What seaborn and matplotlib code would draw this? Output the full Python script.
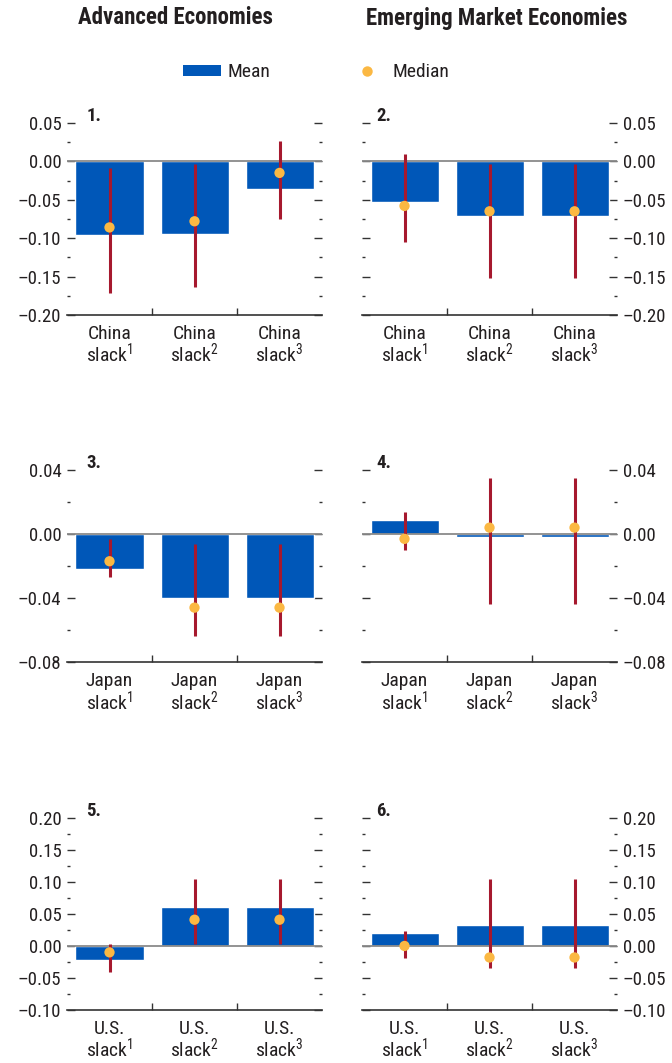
import matplotlib
matplotlib.use("Agg")
import numpy as np
import seaborn as sns
import matplotlib.pyplot as plt
from matplotlib import font_manager
from matplotlib.lines import Line2D
from matplotlib.patches import Patch
from matplotlib.ticker import MultipleLocator, FixedLocator, FuncFormatter

groups = ["China", "Japan", "U.S."]
slacks = ["1", "2", "3"]

# advanced economies (left column), rows: China, Japan, U.S.
adv_mean = [[-0.096, -0.094, -0.036], [-0.022, -0.040, -0.040], [-0.022, 0.061, 0.061]]
adv_median = [[-0.086, -0.078, -0.015], [-0.017, -0.046, -0.046], [-0.010, 0.041, 0.041]]
adv_low = [[-0.172, -0.164, -0.075], [-0.027, -0.064, -0.064], [-0.040, 0.003, 0.003]]
adv_high = [[-0.009, -0.004, 0.027], [-0.003, -0.006, -0.006], [0.003, 0.104, 0.104]]

# emerging market economies (right column)
em_mean = [[-0.053, -0.071, -0.071], [0.009, -0.002, -0.002], [0.021, 0.032, 0.032]]
em_median = [[-0.058, -0.065, -0.065], [-0.003, 0.004, 0.004], [0.000, -0.018, -0.018]]
em_low = [[-0.105, -0.152, -0.152], [-0.010, -0.044, -0.044], [-0.019, -0.035, -0.035]]
em_high = [[0.010, -0.003, -0.003], [0.014, 0.035, 0.035], [0.023, 0.105, 0.105]]

y_limits = [(-0.20, 0.05), (-0.08, 0.04), (-0.10, 0.20)]
y_steps = [0.05, 0.04, 0.05]

BLUE = "#0057B8"
RED = "#A6192E"
GOLD = "#FBB843"
TEXT = "#231F20"

sns.set_theme(style="white")


def wnum(w):
    if isinstance(w, str):
        return font_manager.weight_dict.get(w, 400)
    return int(w)


# pick a narrow family that has both regular and bold faces
weights = {}
for f in font_manager.fontManager.ttflist:
    weights.setdefault(f.name, set()).add(wnum(f.weight))
main_font = "Liberation Sans"
preferred = ["Liberation Sans Narrow", "Roboto Condensed", "Open Sans Condensed",
             "Noto Sans Condensed", "DejaVu Sans Condensed"]
others = sorted(n for n in weights if ("Narrow" in n or "Condensed" in n)
                and "Light" not in n and "Thin" not in n)
for name in preferred + others:
    if name in weights and 400 in weights[name] and max(weights[name]) >= 600:
        main_font = name
        break

plt.rcParams["font.family"] = [main_font, "DejaVu Sans"]
plt.rcParams["mathtext.fontset"] = "custom"
plt.rcParams["mathtext.rm"] = main_font
plt.rcParams["mathtext.default"] = "regular"
plt.rcParams["text.color"] = TEXT
plt.rcParams["xtick.color"] = TEXT
plt.rcParams["ytick.color"] = TEXT


def fmt(v, pos):
    v = round(v, 4)
    if abs(v) < 1e-9:
        v = 0.0
    return f"{v:.2f}".replace("-", "–")


def draw_panel(ax, group, mean, median, low, high, ylim, step, num, right):
    cats = [f"{group}\nslack$^{{{s}}}$" for s in slacks]
    sns.barplot(x=cats, y=mean, color=BLUE, saturation=1, width=0.8, ax=ax, zorder=2)
    ax.axhline(0, color="#8A8A8A", lw=1.3, zorder=3)
    xs = np.arange(len(cats))
    ax.vlines(xs, low, high, color=RED, lw=2.2, zorder=4)
    ax.scatter(xs, median, s=55, color=GOLD, edgecolor="none", zorder=5)

    ax.set_ylim(*ylim)
    ax.set_xlim(-0.5, 2.5)
    ax.yaxis.set_major_locator(MultipleLocator(step))
    ax.yaxis.set_minor_locator(MultipleLocator(step / 2))
    ax.yaxis.set_major_formatter(FuncFormatter(fmt))
    ax.tick_params(axis="y", which="both", direction="in", left=True, right=True,
                   labelleft=not right, labelright=right, color="#333333",
                   labelsize=13.5, pad=4)
    ax.tick_params(axis="y", which="major", length=6, width=1)
    ax.tick_params(axis="y", which="minor", length=2, width=1)

    ax.xaxis.set_minor_locator(FixedLocator([0.5, 1.5]))
    ax.tick_params(axis="x", which="major", length=0, labelsize=14, pad=7)
    ax.tick_params(axis="x", which="minor", direction="in", length=5, width=1,
                   color="#333333", bottom=True)
    for lab in ax.get_xticklabels():
        lab.set_linespacing(0.95)

    for side in ["left", "right", "top"]:
        ax.spines[side].set_visible(False)
    ax.spines["bottom"].set_color("#333333")
    ax.spines["bottom"].set_linewidth(1.2)
    ax.set_xlabel("")
    ax.set_ylabel("")
    ax.text(0.075 if not right else 0.055, 1.035, f"{num}.", transform=ax.transAxes,
            fontsize=13.5, fontweight="bold", va="center", ha="left")


fig = plt.figure(figsize=(6.72, 10.63), dpi=100)
row_bottoms = [0.7037, 0.3772, 0.0499]
col_lefts = [0.0997, 0.5387]
width, height = 0.3795, 0.1806

num = 1
for r in range(3):
    for c in range(2):
        ax = fig.add_axes([col_lefts[c], row_bottoms[r], width, height])
        if c == 0:
            data = (adv_mean[r], adv_median[r], adv_low[r], adv_high[r])
        else:
            data = (em_mean[r], em_median[r], em_low[r], em_high[r])
        draw_panel(ax, groups[r], *data, y_limits[r], y_steps[r], num, c == 1)
        num += 1

fig.text(175 / 672, 1 - 18 / 1063, "Advanced Economies", ha="center", va="center",
         fontsize=16.5, fontweight="bold")
fig.text(497 / 672, 1 - 18 / 1063, "Emerging Market Economies", ha="center", va="center",
         fontsize=16.5, fontweight="bold")

handles = [Patch(facecolor=BLUE, edgecolor="none"),
           Line2D([], [], marker="o", linestyle="none", markersize=7.5,
                  markerfacecolor=GOLD, markeredgecolor="none")]
fig.legend(handles, ["Mean", "Median"], ncol=2, loc="center",
           bbox_to_anchor=(316 / 672, 1 - 72 / 1063), frameon=False,
           fontsize=14, handlelength=2.0, handleheight=0.5, handletextpad=0.3,
           columnspacing=4.0)

fig.savefig("out.png", dpi=100)
